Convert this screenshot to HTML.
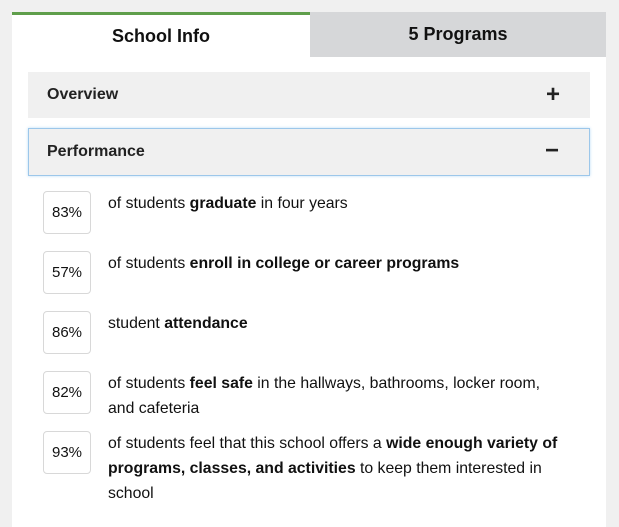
<!DOCTYPE html>
<html><head><style>
*{margin:0;padding:0;box-sizing:border-box}
body{width:619px;height:515px;background:#f0f0f0;font-family:"Liberation Sans",sans-serif;color:#111;position:relative;overflow:hidden}
.tab{position:absolute;top:12px;height:45px;font-weight:bold;font-size:18px;text-align:center;line-height:45px}
.t1{left:12px;width:298px;background:#fff;border-top:3px solid #5f9e4b;line-height:42px}
.t2{left:310px;width:296px;background:#d6d7d9}
.panel{position:absolute;left:12px;top:57px;width:594px;height:470px;background:#fff}
.bar{position:absolute;left:28px;width:562px;background:#f0f0f0;font-weight:bold;font-size:16px;color:#222;padding-left:19px}
.bar span{position:absolute;right:30px;font-size:24px;font-weight:bold}
.b1{top:72px;height:46px;line-height:46px}
.b2{top:128px;height:48px;line-height:46px;border:1px solid #9cc7ea;box-shadow:0 0 3px #bcdcf5;padding-left:18px}
.badge{position:absolute;left:43px;width:48px;height:43px;border:1px solid #d8d8d8;border-radius:4px;font-size:15px;text-align:center;line-height:42px;background:#fff}
.txt{position:absolute;left:108px;font-size:15.8px;line-height:25px;white-space:nowrap;color:#111}
</style></head><body>
<div class="tab t1">School Info</div>
<div class="tab t2">5 Programs</div>
<div class="panel"></div>
<div class="bar b1">Overview<span style="line-height:46px">+</span></div>
<div class="bar b2">Performance<span style="line-height:44px">&minus;</span></div>
<div class="badge" style="top:191px">83%</div>
<div class="txt" style="top:191px">of students <b>graduate</b> in four years</div>
<div class="badge" style="top:251px">57%</div>
<div class="txt" style="top:251px">of students <b>enroll in college or career programs</b></div>
<div class="badge" style="top:311px">86%</div>
<div class="txt" style="top:311px">student <b>attendance</b></div>
<div class="badge" style="top:371px">82%</div>
<div class="txt" style="top:371px">of students <b>feel safe</b> in the hallways, bathrooms, locker room,<br>and cafeteria</div>
<div class="badge" style="top:431px">93%</div>
<div class="txt" style="top:431px">of students feel that this school offers a <b>wide enough variety of</b><br><b>programs, classes, and activities</b> to keep them interested in<br>school</div>
</body></html>
